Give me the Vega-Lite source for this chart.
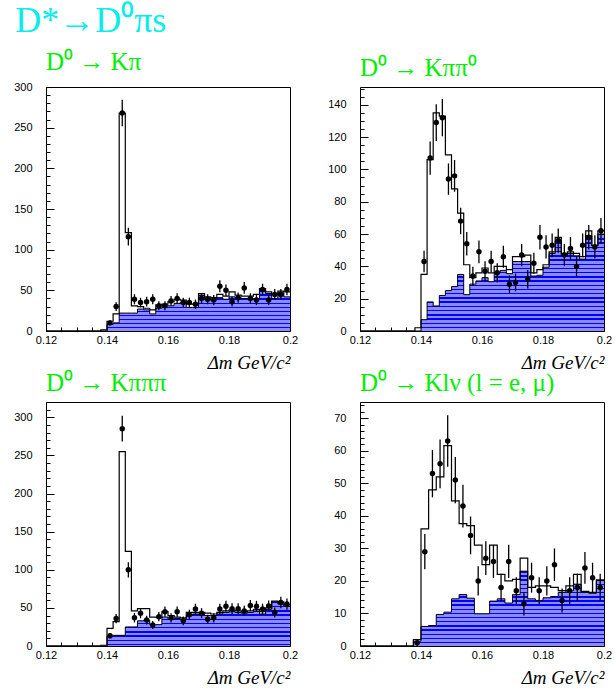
{
  "$schema": "https://vega.github.io/schema/vega-lite/v6.json",
  "background": "white",
  "padding": {"left": 13, "top": 2, "right": 2, "bottom": 3},
  "title": {"text": "D*→D⁰πs", "font": "Liberation Serif", "fontSize": 36, "fontWeight": "normal", "color": "#00eeee", "anchor": "start", "frame": "bounds", "dx": 2, "offset": 10},
  "config": {
    "view": {"stroke": "black", "strokeWidth": 1},
    "axis": {"domain": false, "grid": false, "labelFont": "Liberation Sans", "labelFontSize": 11, "labelColor": "black", "tickColor": "black", "tickWidth": 1, "labelFlush": false},
    "title": {"font": "Liberation Serif", "fontSize": 25, "fontWeight": "normal", "color": "#00ee00", "anchor": "start", "frame": "group", "offset": 6},
    "style": {
      "hatchV1": {"color": {"gradient": "linear", "x1": 0, "y1": 0, "x2": 0, "y2": 1, "stops": [
        {"offset": 0, "color": "#00f"}, {"offset": 0.0333, "color": "#00f"}, {"offset": 0.0333, "color": "rgba(0,0,255,0)"}, {"offset": 0.1, "color": "rgba(0,0,255,0)"},
        {"offset": 0.1, "color": "#00f"}, {"offset": 0.1333, "color": "#00f"}, {"offset": 0.1333, "color": "rgba(0,0,255,0)"}, {"offset": 0.2, "color": "rgba(0,0,255,0)"},
        {"offset": 0.2, "color": "#00f"}, {"offset": 0.2333, "color": "#00f"}, {"offset": 0.2333, "color": "rgba(0,0,255,0)"}, {"offset": 0.3, "color": "rgba(0,0,255,0)"},
        {"offset": 0.3, "color": "#00f"}, {"offset": 0.3333, "color": "#00f"}, {"offset": 0.3333, "color": "rgba(0,0,255,0)"}, {"offset": 0.4, "color": "rgba(0,0,255,0)"},
        {"offset": 0.4, "color": "#00f"}, {"offset": 0.4333, "color": "#00f"}, {"offset": 0.4333, "color": "rgba(0,0,255,0)"}, {"offset": 0.5, "color": "rgba(0,0,255,0)"},
        {"offset": 0.5, "color": "#00f"}, {"offset": 0.5333, "color": "#00f"}, {"offset": 0.5333, "color": "rgba(0,0,255,0)"}, {"offset": 0.6, "color": "rgba(0,0,255,0)"},
        {"offset": 0.6, "color": "#00f"}, {"offset": 0.6333, "color": "#00f"}, {"offset": 0.6333, "color": "rgba(0,0,255,0)"}, {"offset": 0.7, "color": "rgba(0,0,255,0)"},
        {"offset": 0.7, "color": "#00f"}, {"offset": 0.7333, "color": "#00f"}, {"offset": 0.7333, "color": "rgba(0,0,255,0)"}, {"offset": 0.8, "color": "rgba(0,0,255,0)"},
        {"offset": 0.8, "color": "#00f"}, {"offset": 0.8333, "color": "#00f"}, {"offset": 0.8333, "color": "rgba(0,0,255,0)"}, {"offset": 0.9, "color": "rgba(0,0,255,0)"},
        {"offset": 0.9, "color": "#00f"}, {"offset": 0.9333, "color": "#00f"}, {"offset": 0.9333, "color": "rgba(0,0,255,0)"}, {"offset": 1, "color": "rgba(0,0,255,0)"}
      ]}},
      "hatchV2": {"color": {"gradient": "linear", "x1": 0, "y1": 0, "x2": 0, "y2": 1, "stops": [
        {"offset": 0, "color": "#00f"}, {"offset": 0.0145, "color": "#00f"}, {"offset": 0.0145, "color": "rgba(0,0,255,0)"}, {"offset": 0.0435, "color": "rgba(0,0,255,0)"},
        {"offset": 0.0435, "color": "#00f"}, {"offset": 0.0580, "color": "#00f"}, {"offset": 0.0580, "color": "rgba(0,0,255,0)"}, {"offset": 0.0870, "color": "rgba(0,0,255,0)"},
        {"offset": 0.0870, "color": "#00f"}, {"offset": 0.1015, "color": "#00f"}, {"offset": 0.1015, "color": "rgba(0,0,255,0)"}, {"offset": 0.1304, "color": "rgba(0,0,255,0)"},
        {"offset": 0.1304, "color": "#00f"}, {"offset": 0.1449, "color": "#00f"}, {"offset": 0.1449, "color": "rgba(0,0,255,0)"}, {"offset": 0.1739, "color": "rgba(0,0,255,0)"},
        {"offset": 0.1739, "color": "#00f"}, {"offset": 0.1884, "color": "#00f"}, {"offset": 0.1884, "color": "rgba(0,0,255,0)"}, {"offset": 0.2174, "color": "rgba(0,0,255,0)"},
        {"offset": 0.2174, "color": "#00f"}, {"offset": 0.2319, "color": "#00f"}, {"offset": 0.2319, "color": "rgba(0,0,255,0)"}, {"offset": 0.2609, "color": "rgba(0,0,255,0)"},
        {"offset": 0.2609, "color": "#00f"}, {"offset": 0.2754, "color": "#00f"}, {"offset": 0.2754, "color": "rgba(0,0,255,0)"}, {"offset": 0.3043, "color": "rgba(0,0,255,0)"},
        {"offset": 0.3043, "color": "#00f"}, {"offset": 0.3188, "color": "#00f"}, {"offset": 0.3188, "color": "rgba(0,0,255,0)"}, {"offset": 0.3478, "color": "rgba(0,0,255,0)"},
        {"offset": 0.3478, "color": "#00f"}, {"offset": 0.3623, "color": "#00f"}, {"offset": 0.3623, "color": "rgba(0,0,255,0)"}, {"offset": 0.3913, "color": "rgba(0,0,255,0)"},
        {"offset": 0.3913, "color": "#00f"}, {"offset": 0.4058, "color": "#00f"}, {"offset": 0.4058, "color": "rgba(0,0,255,0)"}, {"offset": 0.4348, "color": "rgba(0,0,255,0)"},
        {"offset": 0.4348, "color": "#00f"}, {"offset": 0.4493, "color": "#00f"}, {"offset": 0.4493, "color": "rgba(0,0,255,0)"}, {"offset": 0.4783, "color": "rgba(0,0,255,0)"},
        {"offset": 0.4783, "color": "#00f"}, {"offset": 0.4928, "color": "#00f"}, {"offset": 0.4928, "color": "rgba(0,0,255,0)"}, {"offset": 0.5217, "color": "rgba(0,0,255,0)"},
        {"offset": 0.5217, "color": "#00f"}, {"offset": 0.5362, "color": "#00f"}, {"offset": 0.5362, "color": "rgba(0,0,255,0)"}, {"offset": 0.5652, "color": "rgba(0,0,255,0)"},
        {"offset": 0.5652, "color": "#00f"}, {"offset": 0.5797, "color": "#00f"}, {"offset": 0.5797, "color": "rgba(0,0,255,0)"}, {"offset": 0.6087, "color": "rgba(0,0,255,0)"},
        {"offset": 0.6087, "color": "#00f"}, {"offset": 0.6232, "color": "#00f"}, {"offset": 0.6232, "color": "rgba(0,0,255,0)"}, {"offset": 0.6522, "color": "rgba(0,0,255,0)"},
        {"offset": 0.6522, "color": "#00f"}, {"offset": 0.6667, "color": "#00f"}, {"offset": 0.6667, "color": "rgba(0,0,255,0)"}, {"offset": 0.6957, "color": "rgba(0,0,255,0)"},
        {"offset": 0.6957, "color": "#00f"}, {"offset": 0.7101, "color": "#00f"}, {"offset": 0.7101, "color": "rgba(0,0,255,0)"}, {"offset": 0.7391, "color": "rgba(0,0,255,0)"},
        {"offset": 0.7391, "color": "#00f"}, {"offset": 0.7536, "color": "#00f"}, {"offset": 0.7536, "color": "rgba(0,0,255,0)"}, {"offset": 0.7826, "color": "rgba(0,0,255,0)"},
        {"offset": 0.7826, "color": "#00f"}, {"offset": 0.7971, "color": "#00f"}, {"offset": 0.7971, "color": "rgba(0,0,255,0)"}, {"offset": 0.8261, "color": "rgba(0,0,255,0)"},
        {"offset": 0.8261, "color": "#00f"}, {"offset": 0.8406, "color": "#00f"}, {"offset": 0.8406, "color": "rgba(0,0,255,0)"}, {"offset": 0.8696, "color": "rgba(0,0,255,0)"},
        {"offset": 0.8696, "color": "#00f"}, {"offset": 0.8841, "color": "#00f"}, {"offset": 0.8841, "color": "rgba(0,0,255,0)"}, {"offset": 0.9130, "color": "rgba(0,0,255,0)"},
        {"offset": 0.9130, "color": "#00f"}, {"offset": 0.9275, "color": "#00f"}, {"offset": 0.9275, "color": "rgba(0,0,255,0)"}, {"offset": 0.9565, "color": "rgba(0,0,255,0)"},
        {"offset": 0.9565, "color": "#00f"}, {"offset": 0.9710, "color": "#00f"}, {"offset": 0.9710, "color": "rgba(0,0,255,0)"}, {"offset": 1, "color": "rgba(0,0,255,0)"}
      ]}},
      "hatchV3": {"color": {"gradient": "linear", "x1": 0, "y1": 0, "x2": 0, "y2": 1, "stops": [
        {"offset": 0, "color": "#00f"}, {"offset": 0.0317, "color": "#00f"}, {"offset": 0.0317, "color": "rgba(0,0,255,0)"}, {"offset": 0.0952, "color": "rgba(0,0,255,0)"},
        {"offset": 0.0952, "color": "#00f"}, {"offset": 0.1270, "color": "#00f"}, {"offset": 0.1270, "color": "rgba(0,0,255,0)"}, {"offset": 0.1905, "color": "rgba(0,0,255,0)"},
        {"offset": 0.1905, "color": "#00f"}, {"offset": 0.2222, "color": "#00f"}, {"offset": 0.2222, "color": "rgba(0,0,255,0)"}, {"offset": 0.2857, "color": "rgba(0,0,255,0)"},
        {"offset": 0.2857, "color": "#00f"}, {"offset": 0.3175, "color": "#00f"}, {"offset": 0.3175, "color": "rgba(0,0,255,0)"}, {"offset": 0.3810, "color": "rgba(0,0,255,0)"},
        {"offset": 0.3810, "color": "#00f"}, {"offset": 0.4127, "color": "#00f"}, {"offset": 0.4127, "color": "rgba(0,0,255,0)"}, {"offset": 0.4762, "color": "rgba(0,0,255,0)"},
        {"offset": 0.4762, "color": "#00f"}, {"offset": 0.5079, "color": "#00f"}, {"offset": 0.5079, "color": "rgba(0,0,255,0)"}, {"offset": 0.5714, "color": "rgba(0,0,255,0)"},
        {"offset": 0.5714, "color": "#00f"}, {"offset": 0.6032, "color": "#00f"}, {"offset": 0.6032, "color": "rgba(0,0,255,0)"}, {"offset": 0.6667, "color": "rgba(0,0,255,0)"},
        {"offset": 0.6667, "color": "#00f"}, {"offset": 0.6984, "color": "#00f"}, {"offset": 0.6984, "color": "rgba(0,0,255,0)"}, {"offset": 0.7619, "color": "rgba(0,0,255,0)"},
        {"offset": 0.7619, "color": "#00f"}, {"offset": 0.7937, "color": "#00f"}, {"offset": 0.7937, "color": "rgba(0,0,255,0)"}, {"offset": 0.8571, "color": "rgba(0,0,255,0)"},
        {"offset": 0.8571, "color": "#00f"}, {"offset": 0.8889, "color": "#00f"}, {"offset": 0.8889, "color": "rgba(0,0,255,0)"}, {"offset": 0.9524, "color": "rgba(0,0,255,0)"},
        {"offset": 0.9524, "color": "#00f"}, {"offset": 0.9841, "color": "#00f"}, {"offset": 0.9841, "color": "rgba(0,0,255,0)"}, {"offset": 1, "color": "rgba(0,0,255,0)"}
      ]}},
      "hatchV4": {"color": {"gradient": "linear", "x1": 0, "y1": 0, "x2": 0, "y2": 1, "stops": [
        {"offset": 0, "color": "#00f"}, {"offset": 0.0185, "color": "#00f"}, {"offset": 0.0185, "color": "rgba(0,0,255,0)"}, {"offset": 0.0556, "color": "rgba(0,0,255,0)"},
        {"offset": 0.0556, "color": "#00f"}, {"offset": 0.0741, "color": "#00f"}, {"offset": 0.0741, "color": "rgba(0,0,255,0)"}, {"offset": 0.1111, "color": "rgba(0,0,255,0)"},
        {"offset": 0.1111, "color": "#00f"}, {"offset": 0.1296, "color": "#00f"}, {"offset": 0.1296, "color": "rgba(0,0,255,0)"}, {"offset": 0.1667, "color": "rgba(0,0,255,0)"},
        {"offset": 0.1667, "color": "#00f"}, {"offset": 0.1852, "color": "#00f"}, {"offset": 0.1852, "color": "rgba(0,0,255,0)"}, {"offset": 0.2222, "color": "rgba(0,0,255,0)"},
        {"offset": 0.2222, "color": "#00f"}, {"offset": 0.2407, "color": "#00f"}, {"offset": 0.2407, "color": "rgba(0,0,255,0)"}, {"offset": 0.2778, "color": "rgba(0,0,255,0)"},
        {"offset": 0.2778, "color": "#00f"}, {"offset": 0.2963, "color": "#00f"}, {"offset": 0.2963, "color": "rgba(0,0,255,0)"}, {"offset": 0.3333, "color": "rgba(0,0,255,0)"},
        {"offset": 0.3333, "color": "#00f"}, {"offset": 0.3519, "color": "#00f"}, {"offset": 0.3519, "color": "rgba(0,0,255,0)"}, {"offset": 0.3889, "color": "rgba(0,0,255,0)"},
        {"offset": 0.3889, "color": "#00f"}, {"offset": 0.4074, "color": "#00f"}, {"offset": 0.4074, "color": "rgba(0,0,255,0)"}, {"offset": 0.4444, "color": "rgba(0,0,255,0)"},
        {"offset": 0.4444, "color": "#00f"}, {"offset": 0.4630, "color": "#00f"}, {"offset": 0.4630, "color": "rgba(0,0,255,0)"}, {"offset": 0.5, "color": "rgba(0,0,255,0)"},
        {"offset": 0.5, "color": "#00f"}, {"offset": 0.5185, "color": "#00f"}, {"offset": 0.5185, "color": "rgba(0,0,255,0)"}, {"offset": 0.5556, "color": "rgba(0,0,255,0)"},
        {"offset": 0.5556, "color": "#00f"}, {"offset": 0.5741, "color": "#00f"}, {"offset": 0.5741, "color": "rgba(0,0,255,0)"}, {"offset": 0.6111, "color": "rgba(0,0,255,0)"},
        {"offset": 0.6111, "color": "#00f"}, {"offset": 0.6296, "color": "#00f"}, {"offset": 0.6296, "color": "rgba(0,0,255,0)"}, {"offset": 0.6667, "color": "rgba(0,0,255,0)"},
        {"offset": 0.6667, "color": "#00f"}, {"offset": 0.6852, "color": "#00f"}, {"offset": 0.6852, "color": "rgba(0,0,255,0)"}, {"offset": 0.7222, "color": "rgba(0,0,255,0)"},
        {"offset": 0.7222, "color": "#00f"}, {"offset": 0.7407, "color": "#00f"}, {"offset": 0.7407, "color": "rgba(0,0,255,0)"}, {"offset": 0.7778, "color": "rgba(0,0,255,0)"},
        {"offset": 0.7778, "color": "#00f"}, {"offset": 0.7963, "color": "#00f"}, {"offset": 0.7963, "color": "rgba(0,0,255,0)"}, {"offset": 0.8333, "color": "rgba(0,0,255,0)"},
        {"offset": 0.8333, "color": "#00f"}, {"offset": 0.8519, "color": "#00f"}, {"offset": 0.8519, "color": "rgba(0,0,255,0)"}, {"offset": 0.8889, "color": "rgba(0,0,255,0)"},
        {"offset": 0.8889, "color": "#00f"}, {"offset": 0.9074, "color": "#00f"}, {"offset": 0.9074, "color": "rgba(0,0,255,0)"}, {"offset": 0.9444, "color": "rgba(0,0,255,0)"},
        {"offset": 0.9444, "color": "#00f"}, {"offset": 0.9630, "color": "#00f"}, {"offset": 0.9630, "color": "rgba(0,0,255,0)"}, {"offset": 1, "color": "rgba(0,0,255,0)"}
      ]}}
    }
  },
  "datasets": {
    "h1": [
      {"x": 0.12, "t": 0, "b": 0}, {"x": 0.138, "t": 1.5, "b": 0}, {"x": 0.14, "t": 12, "b": 8}, {"x": 0.142, "t": 21, "b": 10},
      {"x": 0.144, "t": 268, "b": 22}, {"x": 0.146, "t": 121, "b": 22}, {"x": 0.148, "t": 31, "b": 22}, {"x": 0.15, "t": 30, "b": 27},
      {"x": 0.152, "t": 28, "b": 26}, {"x": 0.154, "t": 26, "b": 21}, {"x": 0.156, "t": 32, "b": 28}, {"x": 0.158, "t": 33, "b": 31},
      {"x": 0.16, "t": 36, "b": 31}, {"x": 0.162, "t": 39, "b": 34}, {"x": 0.164, "t": 38, "b": 35}, {"x": 0.166, "t": 33, "b": 29},
      {"x": 0.168, "t": 33, "b": 29}, {"x": 0.17, "t": 46, "b": 44}, {"x": 0.172, "t": 42, "b": 40}, {"x": 0.174, "t": 41, "b": 38},
      {"x": 0.176, "t": 45, "b": 41}, {"x": 0.178, "t": 43, "b": 39}, {"x": 0.18, "t": 48, "b": 42}, {"x": 0.182, "t": 44, "b": 41},
      {"x": 0.184, "t": 43, "b": 40}, {"x": 0.186, "t": 43, "b": 40}, {"x": 0.188, "t": 45, "b": 40}, {"x": 0.19, "t": 52, "b": 50},
      {"x": 0.192, "t": 48, "b": 46}, {"x": 0.194, "t": 45, "b": 40}, {"x": 0.196, "t": 49, "b": 47}, {"x": 0.198, "t": 48, "b": 42},
      {"x": 0.2, "t": 48, "b": 42}
    ],
    "d1": [
      {"x": 0.141, "n": 10, "e": 3.2}, {"x": 0.143, "n": 30, "e": 5.5}, {"x": 0.145, "n": 268, "e": 16.4}, {"x": 0.147, "n": 116, "e": 10.8},
      {"x": 0.149, "n": 39, "e": 6.2}, {"x": 0.151, "n": 35, "e": 5.9}, {"x": 0.153, "n": 36, "e": 6}, {"x": 0.155, "n": 39, "e": 6.2},
      {"x": 0.157, "n": 31, "e": 5.6}, {"x": 0.159, "n": 31, "e": 5.6}, {"x": 0.161, "n": 37, "e": 6.1}, {"x": 0.163, "n": 40, "e": 6.3},
      {"x": 0.165, "n": 35, "e": 5.9}, {"x": 0.167, "n": 35, "e": 5.9}, {"x": 0.169, "n": 33, "e": 5.7}, {"x": 0.171, "n": 40, "e": 6.3},
      {"x": 0.173, "n": 39, "e": 6.2}, {"x": 0.175, "n": 38, "e": 6.2}, {"x": 0.177, "n": 55, "e": 7.4}, {"x": 0.179, "n": 50, "e": 7.1},
      {"x": 0.181, "n": 36, "e": 6}, {"x": 0.183, "n": 41, "e": 6.4}, {"x": 0.185, "n": 53, "e": 7.3}, {"x": 0.187, "n": 40, "e": 6.3},
      {"x": 0.189, "n": 38, "e": 6.2}, {"x": 0.191, "n": 51, "e": 7.1}, {"x": 0.193, "n": 38, "e": 6.2}, {"x": 0.195, "n": 45, "e": 6.7},
      {"x": 0.197, "n": 45, "e": 6.7}, {"x": 0.199, "n": 51, "e": 7.1}
    ],
    "h2": [
      {"x": 0.12, "t": 0, "b": 0}, {"x": 0.138, "t": 2, "b": 0}, {"x": 0.14, "t": 35, "b": 7}, {"x": 0.142, "t": 106, "b": 18},
      {"x": 0.144, "t": 135, "b": 15.5}, {"x": 0.146, "t": 133, "b": 22}, {"x": 0.148, "t": 109, "b": 25}, {"x": 0.15, "t": 88, "b": 27.5},
      {"x": 0.152, "t": 73, "b": 35}, {"x": 0.154, "t": 41, "b": 22.5}, {"x": 0.156, "t": 33, "b": 29}, {"x": 0.158, "t": 36, "b": 31},
      {"x": 0.16, "t": 39, "b": 33}, {"x": 0.162, "t": 36, "b": 30.5}, {"x": 0.164, "t": 40, "b": 36}, {"x": 0.166, "t": 40, "b": 37.5},
      {"x": 0.168, "t": 38, "b": 35.5}, {"x": 0.17, "t": 46, "b": 43}, {"x": 0.172, "t": 46, "b": 43}, {"x": 0.174, "t": 47, "b": 43},
      {"x": 0.176, "t": 36, "b": 34}, {"x": 0.178, "t": 38, "b": 34.5}, {"x": 0.18, "t": 41, "b": 39.5}, {"x": 0.182, "t": 49, "b": 48},
      {"x": 0.184, "t": 58, "b": 56}, {"x": 0.186, "t": 48, "b": 46.5}, {"x": 0.188, "t": 49, "b": 48}, {"x": 0.19, "t": 48, "b": 46.5},
      {"x": 0.192, "t": 46, "b": 44.5}, {"x": 0.194, "t": 62, "b": 59}, {"x": 0.196, "t": 53, "b": 53}, {"x": 0.198, "t": 62, "b": 60},
      {"x": 0.2, "t": 62, "b": 60}
    ],
    "d2": [
      {"x": 0.141, "n": 43, "e": 6.6}, {"x": 0.143, "n": 107, "e": 10.3}, {"x": 0.145, "n": 129, "e": 11.4}, {"x": 0.147, "n": 132, "e": 11.5},
      {"x": 0.149, "n": 94, "e": 9.7}, {"x": 0.151, "n": 96, "e": 9.8}, {"x": 0.153, "n": 68, "e": 8.2}, {"x": 0.155, "n": 54, "e": 7.3},
      {"x": 0.157, "n": 34, "e": 5.8}, {"x": 0.159, "n": 49, "e": 7}, {"x": 0.161, "n": 37, "e": 6.1}, {"x": 0.163, "n": 43, "e": 6.6},
      {"x": 0.165, "n": 36, "e": 6}, {"x": 0.167, "n": 46, "e": 6.8}, {"x": 0.169, "n": 29, "e": 5.4}, {"x": 0.171, "n": 30, "e": 5.5},
      {"x": 0.173, "n": 47, "e": 6.9}, {"x": 0.175, "n": 32, "e": 5.7}, {"x": 0.177, "n": 42, "e": 6.5}, {"x": 0.179, "n": 58, "e": 7.6},
      {"x": 0.181, "n": 52, "e": 7.2}, {"x": 0.183, "n": 53, "e": 7.3}, {"x": 0.185, "n": 56, "e": 7.5}, {"x": 0.187, "n": 47, "e": 6.9},
      {"x": 0.189, "n": 51, "e": 7.1}, {"x": 0.191, "n": 40, "e": 6.3}, {"x": 0.193, "n": 53, "e": 7.3}, {"x": 0.195, "n": 58, "e": 7.6},
      {"x": 0.197, "n": 52, "e": 7.2}, {"x": 0.199, "n": 62, "e": 7.9}
    ],
    "h3": [
      {"x": 0.12, "t": 0, "b": 0}, {"x": 0.138, "t": 1, "b": 0}, {"x": 0.14, "t": 23, "b": 13}, {"x": 0.142, "t": 32, "b": 14},
      {"x": 0.144, "t": 255, "b": 14}, {"x": 0.146, "t": 124, "b": 25}, {"x": 0.148, "t": 46, "b": 25}, {"x": 0.15, "t": 49, "b": 33},
      {"x": 0.152, "t": 49, "b": 34}, {"x": 0.154, "t": 38, "b": 28}, {"x": 0.156, "t": 38, "b": 28}, {"x": 0.158, "t": 45, "b": 38},
      {"x": 0.16, "t": 40, "b": 35}, {"x": 0.162, "t": 38, "b": 36}, {"x": 0.164, "t": 37, "b": 35}, {"x": 0.166, "t": 44, "b": 40},
      {"x": 0.168, "t": 44, "b": 42}, {"x": 0.17, "t": 44, "b": 42}, {"x": 0.172, "t": 43, "b": 40}, {"x": 0.174, "t": 42, "b": 40},
      {"x": 0.176, "t": 44, "b": 42}, {"x": 0.178, "t": 46, "b": 44}, {"x": 0.18, "t": 47, "b": 45}, {"x": 0.182, "t": 46, "b": 44},
      {"x": 0.184, "t": 45, "b": 43}, {"x": 0.186, "t": 46, "b": 44}, {"x": 0.188, "t": 48, "b": 46}, {"x": 0.19, "t": 45, "b": 42},
      {"x": 0.192, "t": 50, "b": 48}, {"x": 0.194, "t": 59, "b": 58}, {"x": 0.196, "t": 58, "b": 55}, {"x": 0.198, "t": 54, "b": 52},
      {"x": 0.2, "t": 54, "b": 52}
    ],
    "d3": [
      {"x": 0.141, "n": 13.5, "e": 3.7}, {"x": 0.143, "n": 36, "e": 6}, {"x": 0.145, "n": 285, "e": 16.9}, {"x": 0.147, "n": 100, "e": 10},
      {"x": 0.149, "n": 37, "e": 6.1}, {"x": 0.151, "n": 43, "e": 6.6}, {"x": 0.153, "n": 34, "e": 5.8}, {"x": 0.155, "n": 27.5, "e": 5.2},
      {"x": 0.157, "n": 38.5, "e": 6.2}, {"x": 0.159, "n": 45, "e": 6.7}, {"x": 0.161, "n": 37, "e": 6.1}, {"x": 0.163, "n": 45, "e": 6.7},
      {"x": 0.165, "n": 33, "e": 5.7}, {"x": 0.167, "n": 41, "e": 6.4}, {"x": 0.169, "n": 48.5, "e": 7}, {"x": 0.171, "n": 43, "e": 6.6},
      {"x": 0.173, "n": 35, "e": 5.9}, {"x": 0.175, "n": 37, "e": 6.1}, {"x": 0.177, "n": 48.5, "e": 7}, {"x": 0.179, "n": 52, "e": 7.2},
      {"x": 0.181, "n": 49, "e": 7}, {"x": 0.183, "n": 49, "e": 7}, {"x": 0.185, "n": 46, "e": 6.8}, {"x": 0.187, "n": 53, "e": 7.3},
      {"x": 0.189, "n": 52, "e": 7.2}, {"x": 0.191, "n": 48.5, "e": 7}, {"x": 0.193, "n": 52.5, "e": 7.2}, {"x": 0.195, "n": 44, "e": 6.6},
      {"x": 0.197, "n": 57, "e": 7.5}, {"x": 0.199, "n": 55, "e": 7.4}
    ],
    "h4": [
      {"x": 0.12, "t": 0, "b": 0}, {"x": 0.1375, "t": 2, "b": 1.5}, {"x": 0.14, "t": 36, "b": 6}, {"x": 0.1425, "t": 48, "b": 6.3},
      {"x": 0.145, "t": 52, "b": 9.7}, {"x": 0.1475, "t": 61.6, "b": 10.4}, {"x": 0.15, "t": 44.6, "b": 14.5}, {"x": 0.1525, "t": 37.6, "b": 15.8},
      {"x": 0.155, "t": 37, "b": 14.7}, {"x": 0.1575, "t": 31, "b": 9.9}, {"x": 0.16, "t": 25, "b": 9.9}, {"x": 0.1625, "t": 31, "b": 13.8},
      {"x": 0.165, "t": 22, "b": 14.5}, {"x": 0.1675, "t": 20, "b": 13.2}, {"x": 0.17, "t": 20.5, "b": 15.8}, {"x": 0.1725, "t": 27, "b": 23},
      {"x": 0.175, "t": 18, "b": 14.5}, {"x": 0.1775, "t": 18.5, "b": 14}, {"x": 0.18, "t": 18.5, "b": 14.8}, {"x": 0.1825, "t": 18, "b": 15.2},
      {"x": 0.185, "t": 17, "b": 16.5}, {"x": 0.1875, "t": 18.5, "b": 17}, {"x": 0.19, "t": 22, "b": 19}, {"x": 0.1925, "t": 16.8, "b": 16.5},
      {"x": 0.195, "t": 16.5, "b": 16.2}, {"x": 0.1975, "t": 20.3, "b": 20.1}, {"x": 0.2, "t": 20.3, "b": 20.1}
    ],
    "d4": [
      {"x": 0.13875, "n": 1, "e": 1}, {"x": 0.14125, "n": 29, "e": 5.4}, {"x": 0.14375, "n": 53, "e": 7.3}, {"x": 0.14625, "n": 56, "e": 7.5},
      {"x": 0.14875, "n": 63, "e": 7.9}, {"x": 0.15125, "n": 51, "e": 7.1}, {"x": 0.15375, "n": 43, "e": 6.6}, {"x": 0.15625, "n": 34, "e": 5.8},
      {"x": 0.15875, "n": 20, "e": 4.5}, {"x": 0.16125, "n": 27, "e": 5.2}, {"x": 0.16375, "n": 26, "e": 5.1}, {"x": 0.16625, "n": 18, "e": 4.2},
      {"x": 0.16875, "n": 26, "e": 5.1}, {"x": 0.17125, "n": 17, "e": 4.1}, {"x": 0.17375, "n": 13, "e": 3.6}, {"x": 0.17625, "n": 21, "e": 4.6},
      {"x": 0.17875, "n": 17, "e": 4.1}, {"x": 0.18125, "n": 20, "e": 4.5}, {"x": 0.18375, "n": 25, "e": 5}, {"x": 0.18625, "n": 14, "e": 3.7},
      {"x": 0.18875, "n": 17, "e": 4.1}, {"x": 0.19125, "n": 18, "e": 4.2}, {"x": 0.19375, "n": 24, "e": 4.9}, {"x": 0.19625, "n": 21, "e": 4.6},
      {"x": 0.19875, "n": 18, "e": 4.2}
    ]
  },
  "columns": 2,
  "spacing": {"column": 28, "row": -3},
  "concat": [
    {
      "width": 244, "height": 244,
      "title": {"text": "D⁰ → Kπ"},
      "resolve": {"axis": {"x": "independent", "y": "independent"}},
      "layer": [
        {"data": {"name": "h1"}, "mark": {"type": "area", "interpolate": "step-after", "color": "#8c8cff", "opacity": 1},
          "encoding": {
            "x": {"field": "x", "type": "quantitative", "scale": {"domain": [0.12, 0.2], "nice": false, "zero": false},
              "axis": {"orient": "bottom", "values": [0.12, 0.14, 0.16, 0.18, 0.2], "format": "~g", "tickSize": -8, "labelPadding": 11, "title": "Δm GeV/c²", "titleFont": "Liberation Serif", "titleFontStyle": "italic", "titleFontWeight": "normal", "titleFontSize": 19, "titleAnchor": "end", "titlePadding": 8, "titleColor": "black"}},
            "y": {"field": "b", "type": "quantitative", "scale": {"domain": [0, 300], "nice": false},
              "axis": {"orient": "left", "values": [0, 50, 100, 150, 200, 250, 300], "tickSize": -8, "labelPadding": 22, "title": null}}}},
        {"data": {"name": "h1"}, "mark": {"type": "area", "interpolate": "step-after", "style": "hatchV1", "opacity": 1},
          "encoding": {"x": {"field": "x", "type": "quantitative", "axis": null}, "y": {"field": "b", "type": "quantitative", "axis": null}}},
        {"data": {"name": "h1"}, "mark": {"type": "line", "interpolate": "step-after", "color": "black", "strokeWidth": 1},
          "encoding": {
            "x": {"field": "x", "type": "quantitative", "axis": {"orient": "bottom", "values": [0.125, 0.13, 0.135, 0.145, 0.15, 0.155, 0.165, 0.17, 0.175, 0.185, 0.19, 0.195], "labels": false, "tickSize": -4, "title": null}},
            "y": {"field": "b", "type": "quantitative", "axis": {"orient": "left", "values": [10, 20, 30, 40, 60, 70, 80, 90, 110, 120, 130, 140, 160, 170, 180, 190, 210, 220, 230, 240, 260, 270, 280, 290], "labels": false, "tickSize": -4, "title": null}}}},
        {"data": {"name": "h1"}, "mark": {"type": "line", "interpolate": "step-after", "color": "black", "strokeWidth": 1.2},
          "encoding": {"x": {"field": "x", "type": "quantitative", "axis": null}, "y": {"field": "t", "type": "quantitative", "axis": null}}},
        {"data": {"name": "d1"}, "mark": {"type": "errorbar", "color": "black", "thickness": 1.3},
          "encoding": {"x": {"field": "x", "type": "quantitative", "axis": null}, "y": {"field": "n", "type": "quantitative", "axis": null}, "yError": {"field": "e"}}},
        {"data": {"name": "d1"}, "mark": {"type": "point", "shape": "circle", "filled": true, "color": "black", "opacity": 1, "size": 30},
          "encoding": {"x": {"field": "x", "type": "quantitative", "axis": null}, "y": {"field": "n", "type": "quantitative", "axis": null}}}
      ]
    },
    {
      "width": 244, "height": 244,
      "title": {"text": "D⁰ → Kππ⁰"},
      "resolve": {"axis": {"x": "independent", "y": "independent"}},
      "layer": [
        {"data": {"name": "h2"}, "mark": {"type": "area", "interpolate": "step-after", "color": "#8c8cff", "opacity": 1},
          "encoding": {
            "x": {"field": "x", "type": "quantitative", "scale": {"domain": [0.12, 0.2], "nice": false, "zero": false},
              "axis": {"orient": "bottom", "values": [0.12, 0.14, 0.16, 0.18, 0.2], "format": "~g", "tickSize": -8, "labelPadding": 11, "title": "Δm GeV/c²", "titleFont": "Liberation Serif", "titleFontStyle": "italic", "titleFontWeight": "normal", "titleFontSize": 19, "titleAnchor": "end", "titlePadding": 8, "titleColor": "black"}},
            "y": {"field": "b", "type": "quantitative", "scale": {"domain": [0, 151], "nice": false},
              "axis": {"orient": "left", "values": [0, 20, 40, 60, 80, 100, 120, 140], "tickSize": -8, "labelPadding": 22, "title": null}}}},
        {"data": {"name": "h2"}, "mark": {"type": "area", "interpolate": "step-after", "style": "hatchV2", "opacity": 1},
          "encoding": {"x": {"field": "x", "type": "quantitative", "axis": null}, "y": {"field": "b", "type": "quantitative", "axis": null}}},
        {"data": {"name": "h2"}, "mark": {"type": "line", "interpolate": "step-after", "color": "black", "strokeWidth": 1},
          "encoding": {
            "x": {"field": "x", "type": "quantitative", "axis": {"orient": "bottom", "values": [0.125, 0.13, 0.135, 0.145, 0.15, 0.155, 0.165, 0.17, 0.175, 0.185, 0.19, 0.195], "labels": false, "tickSize": -4, "title": null}},
            "y": {"field": "b", "type": "quantitative", "axis": {"orient": "left", "values": [5, 10, 15, 25, 30, 35, 45, 50, 55, 65, 70, 75, 85, 90, 95, 105, 110, 115, 125, 130, 135, 145, 150], "labels": false, "tickSize": -4, "title": null}}}},
        {"data": {"name": "h2"}, "mark": {"type": "line", "interpolate": "step-after", "color": "black", "strokeWidth": 1.2},
          "encoding": {"x": {"field": "x", "type": "quantitative", "axis": null}, "y": {"field": "t", "type": "quantitative", "axis": null}}},
        {"data": {"name": "d2"}, "mark": {"type": "errorbar", "color": "black", "thickness": 1.3},
          "encoding": {"x": {"field": "x", "type": "quantitative", "axis": null}, "y": {"field": "n", "type": "quantitative", "axis": null}, "yError": {"field": "e"}}},
        {"data": {"name": "d2"}, "mark": {"type": "point", "shape": "circle", "filled": true, "color": "black", "opacity": 1, "size": 30},
          "encoding": {"x": {"field": "x", "type": "quantitative", "axis": null}, "y": {"field": "n", "type": "quantitative", "axis": null}}}
      ]
    },
    {
      "width": 244, "height": 244,
      "title": {"text": "D⁰ → Kπππ"},
      "resolve": {"axis": {"x": "independent", "y": "independent"}},
      "layer": [
        {"data": {"name": "h3"}, "mark": {"type": "area", "interpolate": "step-after", "color": "#8c8cff", "opacity": 1},
          "encoding": {
            "x": {"field": "x", "type": "quantitative", "scale": {"domain": [0.12, 0.2], "nice": false, "zero": false},
              "axis": {"orient": "bottom", "values": [0.12, 0.14, 0.16, 0.18, 0.2], "format": "~g", "tickSize": -8, "labelPadding": 11, "title": "Δm GeV/c²", "titleFont": "Liberation Serif", "titleFontStyle": "italic", "titleFontWeight": "normal", "titleFontSize": 19, "titleAnchor": "end", "titlePadding": 8, "titleColor": "black"}},
            "y": {"field": "b", "type": "quantitative", "scale": {"domain": [0, 320], "nice": false},
              "axis": {"orient": "left", "values": [0, 50, 100, 150, 200, 250, 300], "tickSize": -8, "labelPadding": 22, "title": null}}}},
        {"data": {"name": "h3"}, "mark": {"type": "area", "interpolate": "step-after", "style": "hatchV3", "opacity": 1},
          "encoding": {"x": {"field": "x", "type": "quantitative", "axis": null}, "y": {"field": "b", "type": "quantitative", "axis": null}}},
        {"data": {"name": "h3"}, "mark": {"type": "line", "interpolate": "step-after", "color": "black", "strokeWidth": 1},
          "encoding": {
            "x": {"field": "x", "type": "quantitative", "axis": {"orient": "bottom", "values": [0.125, 0.13, 0.135, 0.145, 0.15, 0.155, 0.165, 0.17, 0.175, 0.185, 0.19, 0.195], "labels": false, "tickSize": -4, "title": null}},
            "y": {"field": "b", "type": "quantitative", "axis": {"orient": "left", "values": [10, 20, 30, 40, 60, 70, 80, 90, 110, 120, 130, 140, 160, 170, 180, 190, 210, 220, 230, 240, 260, 270, 280, 290, 310, 320], "labels": false, "tickSize": -4, "title": null}}}},
        {"data": {"name": "h3"}, "mark": {"type": "line", "interpolate": "step-after", "color": "black", "strokeWidth": 1.2},
          "encoding": {"x": {"field": "x", "type": "quantitative", "axis": null}, "y": {"field": "t", "type": "quantitative", "axis": null}}},
        {"data": {"name": "d3"}, "mark": {"type": "errorbar", "color": "black", "thickness": 1.3},
          "encoding": {"x": {"field": "x", "type": "quantitative", "axis": null}, "y": {"field": "n", "type": "quantitative", "axis": null}, "yError": {"field": "e"}}},
        {"data": {"name": "d3"}, "mark": {"type": "point", "shape": "circle", "filled": true, "color": "black", "opacity": 1, "size": 30},
          "encoding": {"x": {"field": "x", "type": "quantitative", "axis": null}, "y": {"field": "n", "type": "quantitative", "axis": null}}}
      ]
    },
    {
      "width": 244, "height": 244,
      "title": {"text": "D⁰ → Klν (l = e, μ)"},
      "resolve": {"axis": {"x": "independent", "y": "independent"}},
      "layer": [
        {"data": {"name": "h4"}, "mark": {"type": "area", "interpolate": "step-after", "color": "#8c8cff", "opacity": 1},
          "encoding": {
            "x": {"field": "x", "type": "quantitative", "scale": {"domain": [0.12, 0.2], "nice": false, "zero": false},
              "axis": {"orient": "bottom", "values": [0.12, 0.14, 0.16, 0.18, 0.2], "format": "~g", "tickSize": -8, "labelPadding": 11, "title": "Δm GeV/c²", "titleFont": "Liberation Serif", "titleFontStyle": "italic", "titleFontWeight": "normal", "titleFontSize": 19, "titleAnchor": "end", "titlePadding": 8, "titleColor": "black"}},
            "y": {"field": "b", "type": "quantitative", "scale": {"domain": [0, 75], "nice": false},
              "axis": {"orient": "left", "values": [0, 10, 20, 30, 40, 50, 60, 70], "tickSize": -8, "labelPadding": 22, "title": null}}}},
        {"data": {"name": "h4"}, "mark": {"type": "area", "interpolate": "step-after", "style": "hatchV4", "opacity": 1},
          "encoding": {"x": {"field": "x", "type": "quantitative", "axis": null}, "y": {"field": "b", "type": "quantitative", "axis": null}}},
        {"data": {"name": "h4"}, "mark": {"type": "line", "interpolate": "step-after", "color": "black", "strokeWidth": 1},
          "encoding": {
            "x": {"field": "x", "type": "quantitative", "axis": {"orient": "bottom", "values": [0.125, 0.13, 0.135, 0.145, 0.15, 0.155, 0.165, 0.17, 0.175, 0.185, 0.19, 0.195], "labels": false, "tickSize": -4, "title": null}},
            "y": {"field": "b", "type": "quantitative", "axis": {"orient": "left", "values": [2, 4, 6, 8, 12, 14, 16, 18, 22, 24, 26, 28, 32, 34, 36, 38, 42, 44, 46, 48, 52, 54, 56, 58, 62, 64, 66, 68, 72, 74], "labels": false, "tickSize": -4, "title": null}}}},
        {"data": {"name": "h4"}, "mark": {"type": "line", "interpolate": "step-after", "color": "black", "strokeWidth": 1.2},
          "encoding": {"x": {"field": "x", "type": "quantitative", "axis": null}, "y": {"field": "t", "type": "quantitative", "axis": null}}},
        {"data": {"name": "d4"}, "mark": {"type": "errorbar", "color": "black", "thickness": 1.3},
          "encoding": {"x": {"field": "x", "type": "quantitative", "axis": null}, "y": {"field": "n", "type": "quantitative", "axis": null}, "yError": {"field": "e"}}},
        {"data": {"name": "d4"}, "mark": {"type": "point", "shape": "circle", "filled": true, "color": "black", "opacity": 1, "size": 30},
          "encoding": {"x": {"field": "x", "type": "quantitative", "axis": null}, "y": {"field": "n", "type": "quantitative", "axis": null}}}
      ]
    }
  ]
}
